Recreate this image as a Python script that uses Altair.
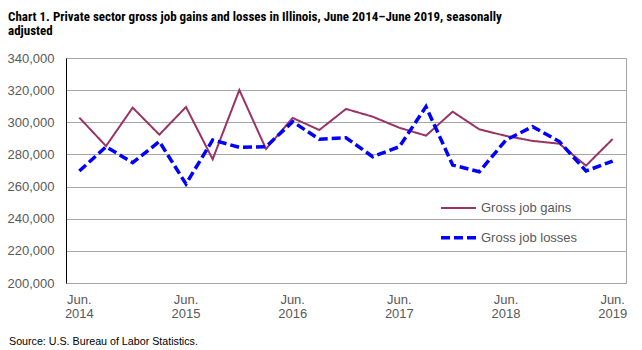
import altair as alt
import pandas as pd

periods = ["Jun 2014", "Sep 2014", "Dec 2014", "Mar 2015", "Jun 2015", "Sep 2015", "Dec 2015",
           "Mar 2016", "Jun 2016", "Sep 2016", "Dec 2016", "Mar 2017", "Jun 2017", "Sep 2017",
           "Dec 2017", "Mar 2018", "Jun 2018", "Sep 2018", "Dec 2018", "Mar 2019", "Jun 2019"]
gains = [302900, 285200, 309100, 292300, 309500, 277000, 320100, 283400, 302700, 295200, 308300,
         303500, 296600, 291700, 306600, 295600, 291500, 288400, 286700, 273000, 289600]
losses = [269700, 284800, 274900, 288000, 261600, 289000, 284400, 284800, 300400, 289400, 290400,
          278600, 284800, 309700, 273400, 269200, 289000, 297300, 288000, 269700, 275900]
series_names = ["Gross job gains", "Gross job losses"]
series_colors = ["#993366", "#0000ff"]
y_ticks = [200000, 220000, 240000, 260000, 280000, 300000, 320000, 340000]
x_label_idx = [0, 4, 8, 12, 16, 20]
x_labels = ["Jun.\n2014", "Jun.\n2015", "Jun.\n2016", "Jun.\n2017", "Jun.\n2018", "Jun.\n2019"]
title_text = ("Chart 1. Private sector gross job gains and losses in Illinois, June 2014\u2013June 2019, seasonally\n"
              "adjusted")
source_text = "Source: U.S. Bureau of Labor Statistics."

W, H = 560, 225
TXT = "#595959"

rows = []
for i, p in enumerate(periods):
    rows.append({"idx": i, "period": p, "series": series_names[0], "value": gains[i]})
    rows.append({"idx": i, "period": p, "series": series_names[1], "value": losses[i]})
df = pd.DataFrame(rows)

xscale = alt.Scale(domain=[-0.5, len(periods) - 0.5], nice=False, zero=False)
yscale = alt.Scale(domain=[200000, 340000], nice=False, zero=False)

x_axis = alt.Axis(values=[i - 0.5 for i in range(len(periods) + 1)], labels=False, grid=False,
                  domainColor="black", tickColor="black", tickSize=4, title=None)
y_axis = alt.Axis(values=y_ticks, format=",d", grid=True, gridColor="#a6a6a6", ticks=False,
                  domainColor="black", labelFontSize=13, labelColor=TXT, labelPadding=12,
                  title=None)

lines = alt.Chart(df).mark_line().encode(
    x=alt.X("idx:Q", scale=xscale, axis=x_axis),
    y=alt.Y("value:Q", scale=yscale, axis=y_axis),
    color=alt.Color("series:N", scale=alt.Scale(domain=series_names, range=series_colors), legend=None),
    strokeDash=alt.StrokeDash("series:N", scale=alt.Scale(domain=series_names, range=[[1, 0], [9, 4]]), legend=None),
    strokeWidth=alt.StrokeWidth("series:N", scale=alt.Scale(domain=series_names, range=[2, 3.5]), legend=None),
)

# manual legend
leg_layers = []
for i, name in enumerate(series_names):
    ly = 150 + i * 29.7
    ldf = pd.DataFrame({"series": [name]})
    leg_layers.append(alt.Chart(ldf).mark_rule(
        color=series_colors[i], strokeWidth=[2, 3.5][i], strokeDash=[[1, 0], [9, 4]][i]
    ).encode(x=alt.value(375), x2=alt.value(410), y=alt.value(ly)))
    leg_layers.append(alt.Chart(ldf).mark_text(
        align="left", baseline="middle", fontSize=13, color=TXT
    ).encode(x=alt.value(415), y=alt.value(ly), text="series:N"))

xl_df = pd.DataFrame({"idx": x_label_idx, "label": x_labels})
xlabels = alt.Chart(xl_df).mark_text(
    lineBreak="\n", align="center", baseline="alphabetic", fontSize=13, color=TXT, lineHeight=13.5
).encode(x=alt.X("idx:Q", scale=xscale, axis=None), y=alt.value(H + 21), text="label:N")

title = alt.Chart(pd.DataFrame({"t": [title_text]})).mark_text(
    lineBreak="\n", align="left", baseline="alphabetic", fontSize=13, fontWeight="bold",
    font="Roboto Condensed, Liberation Sans", color="black", lineHeight=14
).encode(x=alt.value(-58), y=alt.value(-37.5), text="t:N")

source = alt.Chart(pd.DataFrame({"t": [source_text]})).mark_text(
    align="left", baseline="alphabetic", fontSize=10.7, color="black"
).encode(x=alt.value(-57), y=alt.value(H + 62), text="t:N")

chart = alt.layer(lines, *leg_layers, xlabels, title, source).properties(
    width=W, height=H,
    autosize=alt.AutoSizeParams(type="none"),
    padding={"left": 66, "top": 58, "right": 16, "bottom": 67},
).configure(font="Liberation Sans").configure_view(stroke="#a6a6a6")

chart.save("out.html", embed_options={"renderer": "svg", "actions": False})
